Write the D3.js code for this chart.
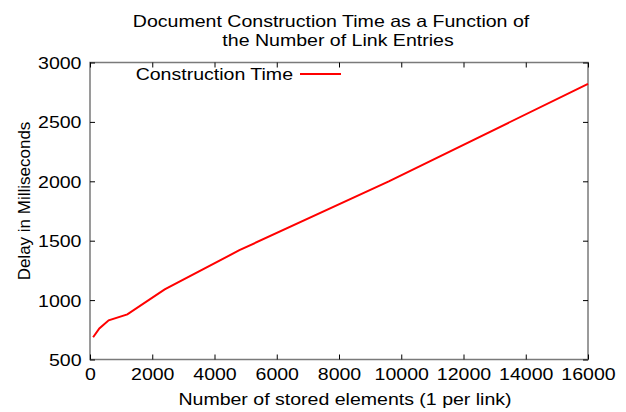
<!DOCTYPE html>
<html><head><meta charset="utf-8">
<script src="https://cdn.jsdelivr.net/npm/d3@7"></script>
<style>
html,body{margin:0;padding:0;background:#fff;}
svg{display:block;font-family:"Liberation Sans",Arial,Helvetica,sans-serif;}
</style></head>
<body>
<svg id="chart" width="626" height="412"></svg>
<script>
const elements = [100, 300, 600, 1200, 2400, 4800, 9600, 16000];
const delayMs = [687, 762, 830, 880, 1090, 1420, 2000, 2820];
const xTicks = [0, 2000, 4000, 6000, 8000, 10000, 12000, 14000, 16000];
const yTicks = [500, 1000, 1500, 2000, 2500, 3000];
const titleLines = ["Document Construction Time as a Function of", "the Number of Link Entries"];
const seriesName = "Construction Time";

const svg = d3.select("#chart");
const L = 90, R = 588, T = 62.5, B = 359.5;
const SX = 1.15, FS = 17;
const x = d3.scaleLinear().domain([0, 16000]).range([L, R]);
const y = d3.scaleLinear().domain([500, 3000]).range([B, T]);

function label(px, py, str, anchor, fs, sx) {
  return svg.append("text").attr("transform", `translate(${px},${py}) scale(${sx || SX},1)`)
    .attr("text-anchor", anchor || "middle").attr("font-size", fs || FS).attr("fill", "#000").text(str);
}

// border
svg.append("rect").attr("x", L).attr("y", T).attr("width", R - L).attr("height", B - T)
  .attr("fill", "none").attr("stroke", "#7a7a7a").attr("stroke-width", 1.5);

const xb = svg.append("g").attr("transform", `translate(0,${B})`)
  .call(d3.axisBottom(x).tickValues(xTicks).tickSize(-5).tickPadding(8).tickFormat(d3.format("d")));
const xt = svg.append("g").attr("transform", `translate(0,${T})`)
  .call(d3.axisTop(x).tickValues(xTicks).tickSize(-5).tickFormat(""));
const yl = svg.append("g").attr("transform", `translate(${L},0)`)
  .call(d3.axisLeft(y).tickValues(yTicks).tickSize(-5).tickPadding(7.4).tickFormat(d3.format("d")));
const yr = svg.append("g").attr("transform", `translate(${R},0)`)
  .call(d3.axisRight(y).tickValues(yTicks).tickSize(-5).tickFormat(""));
[xb, xt, yl, yr].forEach(g => {
  g.select(".domain").remove();
  g.selectAll(".tick line").attr("stroke", "#000").attr("stroke-width", 1);
  g.selectAll("text").attr("font-size", FS).attr("fill", "#000")
    .attr("font-family", "'Liberation Sans',Arial,sans-serif")
    .attr("transform", `scale(${SX},1)`);
});
xb.selectAll("text").attr("dy", "0.71em");
yl.selectAll("text").attr("dy", "0.35em");

// line
const line = d3.line().x((d, i) => x(elements[i])).y(d => y(d));
svg.append("path").datum(delayMs).attr("d", line)
  .attr("fill", "none").attr("stroke", "#ff0000").attr("stroke-width", 2);

// title
label(331, 27, titleLines[0], "middle", 16.5, 1.185);
label(338, 45.8, titleLines[1], "middle", 16.5, 1.185);

// axis labels
label(345, 405, "Number of stored elements (1 per link)");
svg.append("text").attr("transform", "translate(29.5,201) rotate(-90)").attr("text-anchor", "middle")
  .attr("font-size", FS).text("Delay in Milliseconds");

// legend
label(293, 79.5, seriesName, "end");
svg.append("line").attr("x1", 300).attr("x2", 341).attr("y1", 74).attr("y2", 74)
  .attr("stroke", "#ff0000").attr("stroke-width", 2);
</script>
</body></html>
